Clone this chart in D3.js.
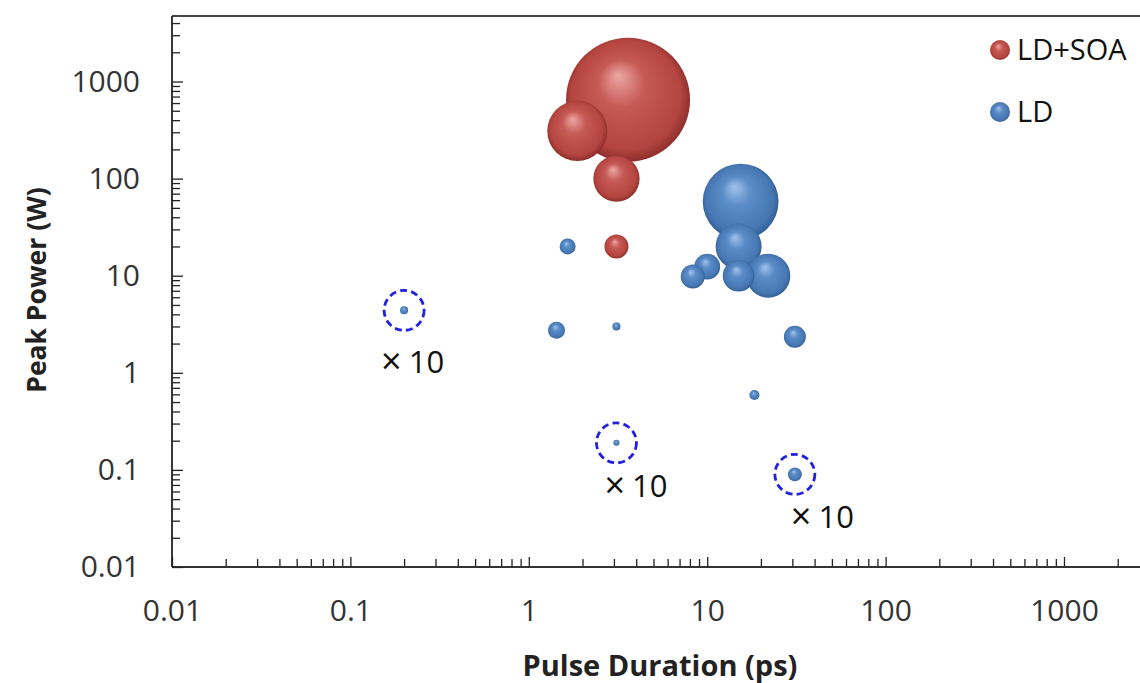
<!DOCTYPE html>
<html><head><meta charset="utf-8">
<script src="https://cdn.jsdelivr.net/npm/d3@7"></script>
<style>
html,body{margin:0;padding:0;background:#fff;}
svg{display:block;}
text{font-family:"Open Sans",sans-serif;}
</style></head>
<body>
<script>
// ---- data ----
const seriesNames = ["LD+SOA", "LD"];
// LD+SOA: pulse duration (ps), peak power (W), bubble size
const soaDuration = [3.6, 1.87, 3.1, 3.1];
const soaPower    = [650, 310, 100, 20];
const soaSize     = [2300, 540, 320, 86];
// LD
const ldDuration = [15.4, 15, 22, 15, 10, 8.3, 31, 1.65, 1.43, 3.1, 18.4, 0.2, 3.1, 31];
const ldPower    = [58, 20, 10, 10, 12.4, 9.8, 2.35, 20, 2.75, 3, 0.59, 4.4, 0.19, 0.09];
const ldSize     = [860, 317, 290, 150, 100, 86, 72, 38, 43, 9.6, 15, 9.6, 5.4, 29];
// magnified (×10) points: index into LD series
const magnifiedIdx = [11, 12, 13];
const magnifiedLabel = "×10";
const xTickLabels = ["0.01", "0.1", "1", "10", "100", "1000"];
const yTickLabels = ["0.01", "0.1", "1", "10", "100", "1000"];
const xTitle = "Pulse Duration (ps)";
const yTitle = "Peak Power (W)";

// ---- layout ----
const W = 1140, H = 683;
const svg = d3.select("body").append("svg").attr("width", W).attr("height", H);
const defs = svg.append("defs");

const x = d3.scaleLog().domain([0.01, 3000]).range([172, 172 + Math.log10(3000/0.01) * 178.4]);
const y = d3.scaleLog().domain([0.01, 4730]).range([567, 16]);
const r = d3.scaleSqrt().domain([0, 2300]).range([0, 62]);

const colors = {
  "LD+SOA": {hi: "#eca7a3", mid: "#c65a55", base: "#b4443f", edge: "#7a2522"},
  "LD":     {hi: "#a2c3ea", mid: "#5a8cc8", base: "#4677b3", edge: "#2a5386"}
};
seriesNames.forEach((s, i) => {
  const c = colors[s];
  const g = defs.append("radialGradient").attr("id", "grad" + i)
    .attr("cx", "0.5").attr("cy", "0.5").attr("r", "0.55").attr("fx", "0.42").attr("fy", "0.3");
  g.append("stop").attr("offset", "0").attr("stop-color", c.hi);
  g.append("stop").attr("offset", "0.35").attr("stop-color", c.mid);
  g.append("stop").attr("offset", "0.8").attr("stop-color", c.base);
  g.append("stop").attr("offset", "1").attr("stop-color", c.edge);
});

// ---- axes ----
function decadeTicks(lo, hi) {
  const out = [];
  for (let e = Math.round(Math.log10(lo)); e <= Math.ceil(Math.log10(hi)); e++) {
    for (let m = 1; m <= 9; m++) {
      const v = m * Math.pow(10, e);
      if (v >= lo * 0.999 && v <= hi * 1.001) out.push(v);
    }
  }
  return out;
}
const xMajor = xTickLabels.map(Number);
const yMajor = yTickLabels.map(Number);
const xMinor = decadeTicks(0.01, 3000).filter(v => !xMajor.some(m => Math.abs(m - v) / v < 1e-6));
const yMinor = decadeTicks(0.01, 4730).filter(v => !yMajor.some(m => Math.abs(m - v) / v < 1e-6));

// top border
svg.append("line").attr("x1", 172).attr("x2", W).attr("y1", 16).attr("y2", 16)
  .attr("stroke", "#444").attr("stroke-width", 2);

const gx = svg.append("g").attr("transform", "translate(0,567)");
gx.append("g").call(d3.axisBottom(x).tickValues(xMinor).tickSize(-8).tickFormat(""))
  .call(g => g.select(".domain").remove());
gx.append("g").call(d3.axisBottom(x).tickValues(xMajor).tickSizeInner(-10).tickSizeOuter(0)
    .tickPadding(33).tickFormat((d, i) => xTickLabels[i]))
  .call(g => g.select(".domain").attr("d", `M172,0H${W}`));
gx.selectAll(".tick line").attr("stroke", "#222").attr("stroke-width", 1.3);
gx.selectAll(".domain").attr("stroke", "#333").attr("stroke-width", 2);
gx.selectAll("text").attr("font-size", 30).attr("fill", "#333").attr("font-family", "Open Sans");

const gy = svg.append("g").attr("transform", "translate(172,0)");
gy.append("g").call(d3.axisLeft(y).tickValues(yMinor).tickSize(-8).tickFormat(""))
  .call(g => g.select(".domain").remove());
gy.append("g").call(d3.axisLeft(y).tickValues(yMajor).tickSizeInner(-11).tickSizeOuter(0)
    .tickPadding(32).tickFormat((d, i) => yTickLabels[i]))
  .call(g => g.select(".domain").attr("d", "M0,16V567"));
gy.selectAll(".tick line").attr("stroke", "#222").attr("stroke-width", 1.3);
gy.selectAll(".domain").attr("stroke", "#222").attr("stroke-width", 1.8);
gy.selectAll("text").attr("font-size", 30).attr("fill", "#333").attr("font-family", "Open Sans");

// titles
svg.append("text").attr("x", 660).attr("y", 676).attr("text-anchor", "middle")
  .attr("font-size", 29).attr("font-weight", "bold").attr("fill", "#222").text(xTitle);
svg.append("text").attr("transform", "translate(46,290) rotate(-90)").attr("text-anchor", "middle")
  .attr("font-size", 26.5).attr("font-weight", "bold").attr("fill", "#222").text(yTitle);

// ---- bubbles ----
const pts = [];
soaDuration.forEach((d, i) => pts.push({s: 0, x: d, y: soaPower[i], size: soaSize[i]}));
ldDuration.forEach((d, i) => pts.push({s: 1, x: d, y: ldPower[i], size: ldSize[i], idx: i}));
pts.sort((a, b) => b.size - a.size);
svg.append("g").selectAll("circle").data(pts).join("circle")
  .attr("cx", d => x(d.x)).attr("cy", d => y(d.y)).attr("r", d => r(d.size))
  .attr("fill", d => `url(#grad${d.s})`);

// magnified markers
const labelOffsets = [[-23, 63], [-12, 54], [-4, 54]];
const mg = svg.append("g");
magnifiedIdx.forEach((k, j) => {
  const cx = x(ldDuration[k]), cy = y(ldPower[k]);
  mg.append("circle").attr("cx", cx).attr("cy", cy).attr("r", 20)
    .attr("fill", "none").attr("stroke", "#2222dd").attr("stroke-width", 2.8)
    .attr("stroke-dasharray", "7,4.2");
  const t = mg.append("text").attr("x", cx + labelOffsets[j][0]).attr("y", cy + labelOffsets[j][1])
    .attr("font-size", 31).attr("fill", "#111");
  t.append("tspan").attr("font-size", 36).attr("dy", 1).text(magnifiedLabel.slice(0, 1));
  t.append("tspan").attr("dx", 7).attr("dy", -1).text(magnifiedLabel.slice(1));
});

// ---- legend ----
const lg = svg.append("g");
seriesNames.forEach((s, i) => {
  const ly = 50 + i * 62;
  lg.append("circle").attr("cx", 1000).attr("cy", ly).attr("r", 10).attr("fill", `url(#grad${i})`);
  lg.append("text").attr("x", 1017).attr("y", ly + 10).attr("font-size", 29).attr("fill", "#111").text(s);
});
</script>
</body></html>
